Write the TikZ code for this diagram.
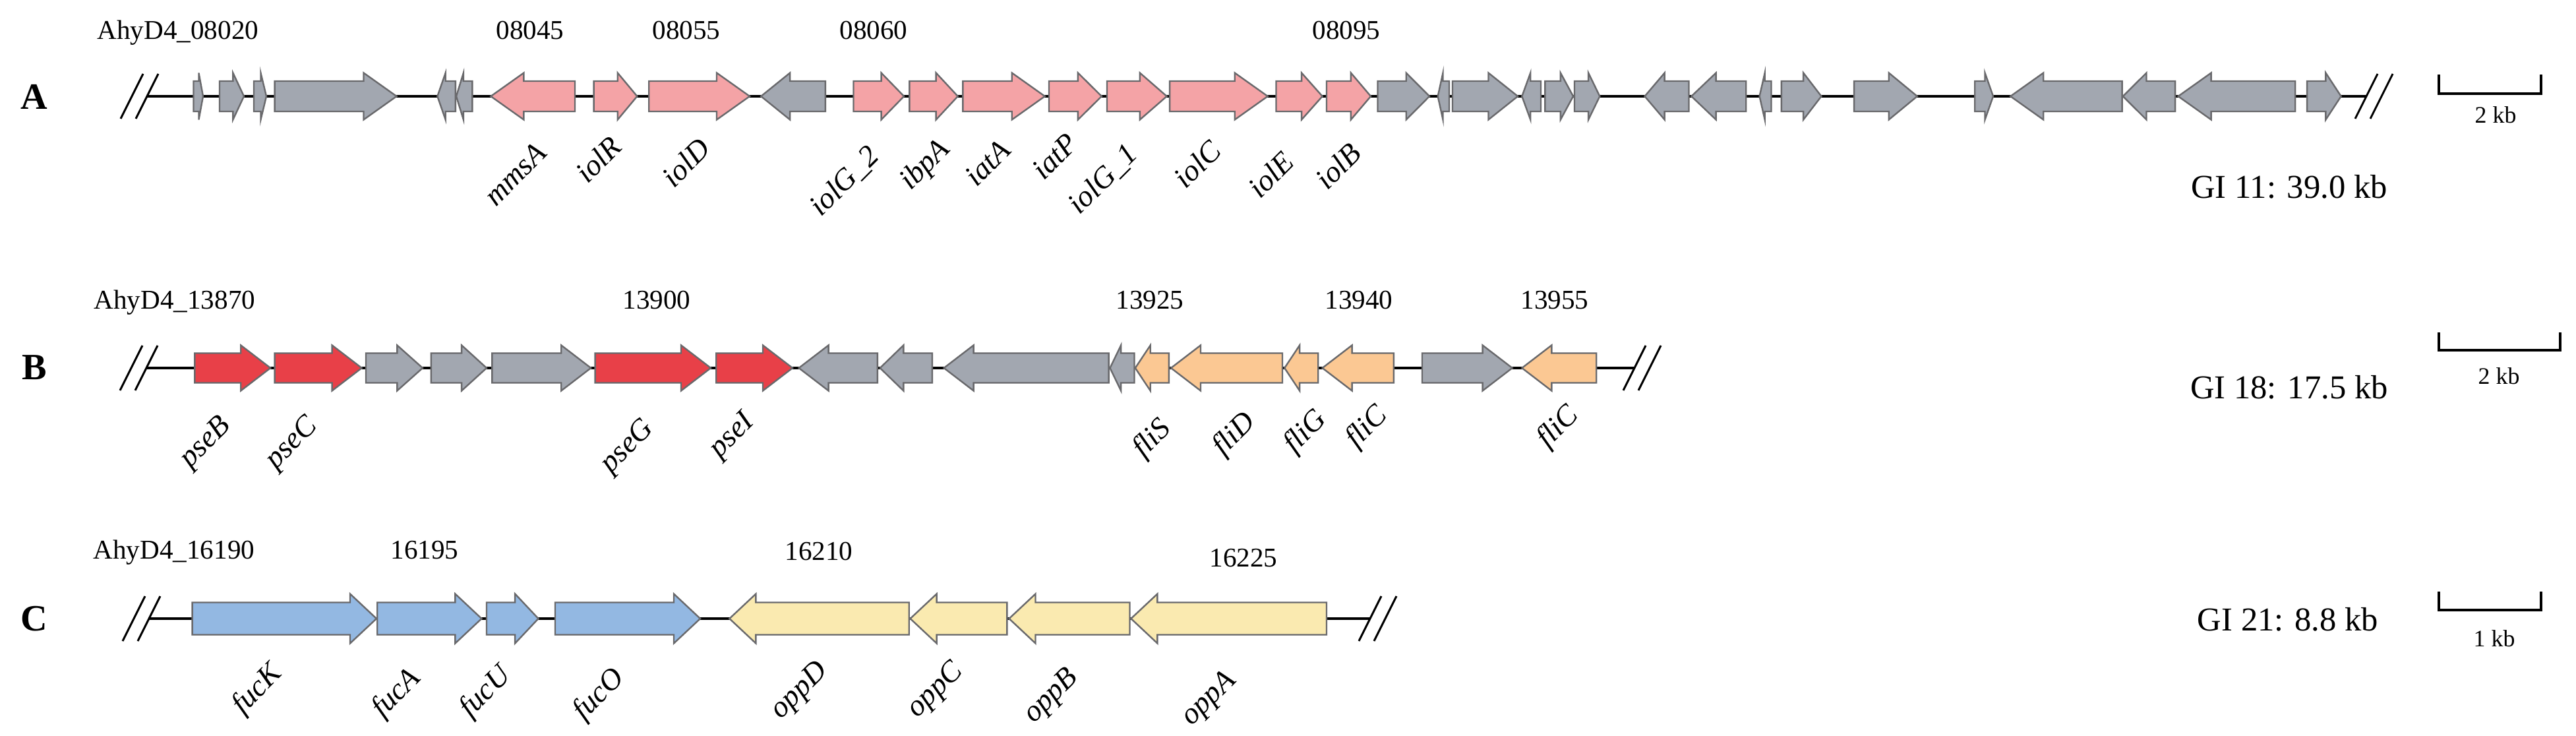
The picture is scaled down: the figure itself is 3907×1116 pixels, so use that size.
\documentclass[tikz,border=0pt]{standalone}
\usepackage{fontspec}
\setmainfont{Liberation Serif}
\definecolor{ggray}{RGB}{162,167,176}
\definecolor{gpink}{RGB}{244,163,166}
\definecolor{gred}{RGB}{232,64,72}
\definecolor{gpeach}{RGB}{251,200,147}
\definecolor{gblue}{RGB}{147,184,226}
\definecolor{gyellow}{RGB}{250,234,176}
\definecolor{gedge}{RGB}{105,105,108}
\tikzset{
  gene/.style={draw=gedge, line width=0.024cm, line join=miter},
  backbone/.style={line width=0.035cm, black},
  slashline/.style={line width=0.03cm, black},
  numlbl/.style={font=\fontsize{11.7}{14}\selectfont, anchor=base, inner sep=0pt},
  namelbl/.style={font=\fontsize{13}{15}\selectfont\itshape, rotate=45, anchor=east, inner sep=0pt},
  gilbl/.style={font=\fontsize{14.4}{17}\selectfont, anchor=base, inner sep=0pt},
  kblbl/.style={font=\fontsize{10.2}{12}\selectfont, anchor=base, inner sep=0pt},
  rowlbl/.style={font=\fontsize{16}{19}\selectfont\bfseries, inner sep=0pt},
  scalebar/.style={line width=0.04cm, black}
}
\newcommand{\geneR}[3]{%
  \pgfmathsetmacro{\ghl}{min(\gcap,0.45*(#2-#1))}%
  \filldraw[gene, fill=#3] (#1,\gy-\gbh) -- (#2-\ghl,\gy-\gbh) -- (#2-\ghl,\gy-\ghh) -- (#2,\gy) -- (#2-\ghl,\gy+\ghh) -- (#2-\ghl,\gy+\gbh) -- (#1,\gy+\gbh) -- cycle;}
\newcommand{\geneL}[3]{%
  \pgfmathsetmacro{\ghl}{min(\gcap,0.45*(#2-#1))}%
  \filldraw[gene, fill=#3] (#2,\gy-\gbh) -- (#1+\ghl,\gy-\gbh) -- (#1+\ghl,\gy-\ghh) -- (#1,\gy) -- (#1+\ghl,\gy+\ghh) -- (#1+\ghl,\gy+\gbh) -- (#2,\gy+\gbh) -- cycle;}
\newcommand{\gslash}[2]{%
  \draw[slashline] (#1-17,#2+34) -- (#1+17,#2-34);
  \draw[slashline] (#1+6,#2+34) -- (#1+40,#2-34);}
\begin{document}
\begin{tikzpicture}[x=0.01cm, y=-0.01cm]
\fill[white] (0,0) rectangle (3907,1116);
\useasboundingbox (0,0) rectangle (3907,1116);

% ---------------- Row A ----------------
\node[rowlbl] (rowA) at (52,147) {A};
\coordinate (Astart) at (223,146);
\coordinate (Aend) at (3589,146);
\draw[backbone] (Astart) -- (Aend);
\gslash{200}{146}
\gslash{3589}{146}
\def\gy{146}\def\gbh{23}\def\ghh{35.5}\def\gcap{50}
\geneR{293.5}{308}{ggray}
\geneR{333}{370}{ggray}
\geneR{385}{404}{ggray}
\geneR{416.6}{601.5}{ggray}
\geneL{663.4}{690.8}{ggray}
\geneL{692}{716.3}{ggray}
\geneL{744.4}{872}{gpink}
\geneR{900.6}{966.3}{gpink}
\geneR{984.2}{1137}{gpink}
\geneL{1154.2}{1251.8}{ggray}
\geneR{1294.5}{1371}{gpink}
\geneR{1379.3}{1452.7}{gpink}
\geneR{1460.3}{1584.7}{gpink}
\geneR{1591}{1670.8}{gpink}
\geneR{1679}{1769.6}{gpink}
\geneR{1774.1}{1922.7}{gpink}
\geneR{1935.5}{2005.6}{gpink}
\geneR{2012}{2079}{gpink}
\geneR{2089.5}{2168}{ggray}
\geneL{2180.7}{2198}{ggray}
\geneR{2203}{2302}{ggray}
\geneL{2308.3}{2337}{ggray}
\geneR{2343.4}{2386}{ggray}
\geneR{2388}{2426.3}{ggray}
\geneL{2494.5}{2561.5}{ggray}
\geneL{2565.3}{2648.2}{ggray}
\geneL{2668.6}{2686.5}{ggray}
\geneR{2701.8}{2762.4}{ggray}
\geneR{2812.1}{2907.8}{ggray}
\geneR{2995.2}{3023}{ggray}
\geneL{3049.2}{3218.6}{ggray}
\geneL{3219.8}{3299}{ggray}
\geneL{3303.6}{3481.2}{ggray}
\geneR{3499}{3550.6}{ggray}

\node[numlbl] (nA1) at (270,60) {AhyD4\_08020};
\node[numlbl] (nA2) at (804,60) {08045};
\node[numlbl] (nA3) at (1041,60) {08055};
\node[numlbl] (nA4) at (1325,60) {08060};
\node[numlbl] (nA5) at (2042,60) {08095};

\node[namelbl] (lA1) at (821,224) {mmsA};
\node[namelbl] (lA2) at (935,214) {iolR};
\node[namelbl] (lA3) at (1069,217) {iolD};
\node[namelbl] (lA4) at (1327,230) {iolG\_2};
\node[namelbl] (lA5) at (1435,220) {ibpA};
\node[namelbl] (lA6) at (1525,220) {iatA};
\node[namelbl] (lA7) at (1627,210) {iatP};
\node[namelbl] (lA8) at (1719,227) {iolG\_1};
\node[namelbl] (lA9) at (1844,220) {iolC};
\node[namelbl] (lA10) at (1955,237) {iolE};
\node[namelbl] (lA11) at (2057,224) {iolB};

\node[gilbl] (giA) at (3472,301) {GI 11: 39.0 kb};
\coordinate (sA1) at (3699,113);
\coordinate (sA2) at (3699,142);
\coordinate (sA3) at (3854,142);
\coordinate (sA4) at (3854,113);
\draw[scalebar] (sA1) -- (sA2) -- (sA3) -- (sA4);
\node[kblbl] (kbA) at (3785,187) {2 kb};

% ---------------- Row B ----------------
\node[rowlbl] (rowB) at (52,557) {B};
\coordinate (Bstart) at (222,558);
\coordinate (Bend) at (2479,558);
\draw[backbone] (Bstart) -- (Bend);
\gslash{199}{558}
\gslash{2479}{558}
\def\gy{558}\def\gbh{22.5}\def\ghh{34.5}\def\gcap{45}
\geneR{295.4}{410.2}{gred}
\geneR{416.6}{548.6}{gred}
\geneR{555}{641}{ggray}
\geneR{653.8}{738}{ggray}
\geneR{746.3}{896.2}{ggray}
\geneR{902.6}{1078}{gred}
\geneR{1086.2}{1202}{gred}
\geneL{1211.6}{1330.9}{ggray}
\geneL{1334.7}{1413.8}{ggray}
\geneL{1431.6}{1681.6}{ggray}
\geneL{1683.5}{1720.5}{ggray}
\geneL{1721.8}{1772.8}{gpeach}
\geneL{1776}{1945}{gpeach}
\geneL{1948.2}{1999.2}{gpeach}
\geneL{2005.6}{2113.8}{gpeach}
\geneR{2157}{2293.6}{ggray}
\geneL{2308.3}{2421.2}{gpeach}

\node[numlbl] (nB1) at (265,469) {AhyD4\_13870};
\node[numlbl] (nB2) at (996,469) {13900};
\node[numlbl] (nB3) at (1744,469) {13925};
\node[numlbl] (nB4) at (2061,469) {13940};
\node[numlbl] (nB5) at (2358,469) {13955};

\node[namelbl] (lB1) at (345,640) {pseB};
\node[namelbl] (lB2) at (476,640) {pseC};
\node[namelbl] (lB3) at (986,644) {pseG};
\node[namelbl] (lB4) at (1139,634) {pseI};
\node[namelbl] (lB5) at (1770,644) {fliS};
\node[namelbl] (lB6) at (1898,634) {fliD};
\node[namelbl] (lB7) at (2006,630) {fliG};
\node[namelbl] (lB8) at (2099,624) {fliC};
\node[namelbl] (lB9) at (2389,624) {fliC};

\node[gilbl] (giB) at (3472,604) {GI 18: 17.5 kb};
\coordinate (sB1) at (3699,504);
\coordinate (sB2) at (3699,531);
\coordinate (sB3) at (3883,531);
\coordinate (sB4) at (3883,504);
\draw[scalebar] (sB1) -- (sB2) -- (sB3) -- (sB4);
\node[kblbl] (kbB) at (3790,583) {2 kb};

% ---------------- Row C ----------------
\node[rowlbl] (rowC) at (52,938) {C};
\coordinate (Cstart) at (226,938);
\coordinate (Cend) at (2078,938);
\draw[backbone] (Cstart) -- (Cend);
\gslash{203}{938}
\gslash{2078}{938}
\def\gy{938}\def\gbh{24.5}\def\ghh{37.5}\def\gcap{40}
\geneR{291.6}{571}{gblue}
\geneR{572.2}{730.4}{gblue}
\geneR{738}{816.5}{gblue}
\geneR{842}{1062}{gblue}
\geneL{1106.4}{1378.7}{gyellow}
\geneL{1380.6}{1527.3}{gyellow}
\geneL{1530.5}{1713.5}{gyellow}
\geneL{1715.4}{2012}{gyellow}

\node[numlbl] (nC1) at (264,847) {AhyD4\_16190};
\node[numlbl] (nC2) at (644,847) {16195};
\node[numlbl] (nC3) at (1242,849) {16210};
\node[numlbl] (nC4) at (1886,859) {16225};

\node[namelbl] (lC1) at (422,1015) {fucK};
\node[namelbl] (lC2) at (632,1022) {fucA};
\node[namelbl] (lC3) at (769,1018) {fucU};
\node[namelbl] (lC4) at (941,1022) {fucO};
\node[namelbl] (lC5) at (1250,1012) {oppD};
\node[namelbl] (lC6) at (1455,1012) {oppC};
\node[namelbl] (lC7) at (1630,1022) {oppB};
\node[namelbl] (lC8) at (1869,1026) {oppA};

\node[gilbl] (giC) at (3470,956) {GI 21: 8.8 kb};
\coordinate (sC1) at (3699,897);
\coordinate (sC2) at (3699,925);
\coordinate (sC3) at (3854,925);
\coordinate (sC4) at (3854,897);
\draw[scalebar] (sC1) -- (sC2) -- (sC3) -- (sC4);
\node[kblbl] (kbC) at (3783,980) {1 kb};
\end{tikzpicture}
\end{document}
